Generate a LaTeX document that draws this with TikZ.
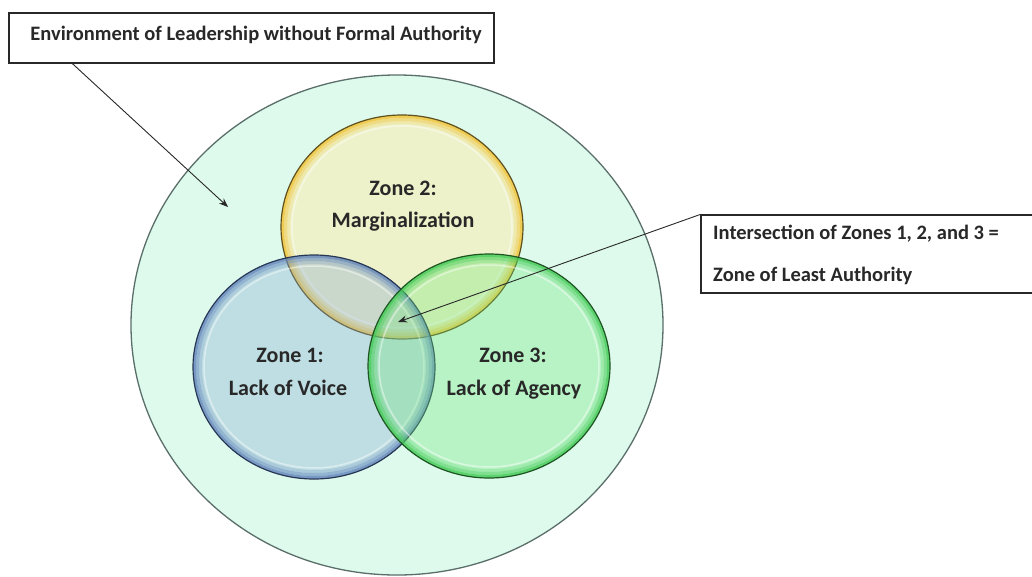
\documentclass[tikz,border=0pt]{standalone}
\usepackage{fontspec}
\setmainfont{Carlito}
\usetikzlibrary{arrows.meta}

\definecolor{envfill}{RGB}{221,250,236}
\definecolor{envedge}{RGB}{90,110,106}
\definecolor{inkgray}{RGB}{40,40,40}
\definecolor{yelfill}{RGB}{255,236,170}
\definecolor{yelrim}{RGB}{240,192,45}
\definecolor{yeledge}{RGB}{95,80,30}
\definecolor{blufill}{RGB}{130,165,210}
\definecolor{blurim}{RGB}{95,130,185}
\definecolor{bluedge}{RGB}{40,55,85}
\definecolor{grnfill}{RGB}{110,230,120}
\definecolor{grnrim}{RGB}{60,200,80}
\definecolor{grnedge}{RGB}{30,85,35}

% one translucent, glossy zone of the Venn diagram
\newcommand\drawzone[5]{%
  \fill[#2, fill opacity=#5] #1 ellipse [x radius=121, y radius=112];
  \draw[#3, line width=3, draw opacity=0.75] #1 ellipse [x radius=119.5, y radius=110.5];
  \draw[#3, line width=3, draw opacity=0.45] #1 ellipse [x radius=116.5, y radius=107.5];
  \draw[#3, line width=3, draw opacity=0.2] #1 ellipse [x radius=113.5, y radius=104.5];
  \draw[white, line width=1.5, draw opacity=0.45] #1 ellipse [x radius=110, y radius=101];
  \draw[#4, line width=1.2] #1 ellipse [x radius=121, y radius=112];
}

\tikzset{
  callout/.style={draw=inkgray, line width=1.2, fill=white, inner sep=0pt},
  lbl/.style={font=\fontsize{20.5}{24}\selectfont\bfseries, text=inkgray, inner sep=0pt, anchor=base},
  zonelbl/.style={lbl, font=\fontsize{22}{26}\selectfont\bfseries},
  pointer/.style={draw=inkgray, line width=0.9, -{Stealth[length=9pt,width=7pt]}},
}

\begin{document}
\begin{tikzpicture}[x=1pt,y=-1pt]
\useasboundingbox (0,0) rectangle (1032,576);
\fill[white] (0,0) rectangle (1032,576);

% the surrounding environment
\draw[envedge, line width=1.3, fill=envfill] (397,325) ellipse [x radius=266, y radius=250];

% the three zones
\drawzone{(402,227)}{yelfill}{yelrim}{yeledge}{0.5}
\drawzone{(314,367)}{blufill}{blurim}{bluedge}{0.33}
\drawzone{(489,366)}{grnfill}{grnrim}{grnedge}{0.33}

% zone labels
\node[zonelbl] (z2a) at (403,195) {Zone 2:};
\node[zonelbl] (z2b) at (403,227) {Marginalization};
\node[zonelbl] (z1a) at (290,362) {Zone 1:};
\node[zonelbl] (z1b) at (288,395) {Lack of Voice};
\node[zonelbl] (z3a) at (513,362) {Zone 3:};
\node[zonelbl] (z3b) at (514,395) {Lack of Agency};

% callout boxes
\node[callout, minimum width=485, minimum height=50] (envbox) at (251.5,38) {};
\node[lbl] (envtxt) at (256,40) {Environment of Leadership without Formal Authority};

\node[callout, minimum width=350, minimum height=78] (corebox) at (876,254) {};
\node[lbl, anchor=base west] (coretxt1) at (713,239) {Intersection of Zones 1, 2, and 3 =};
\node[lbl, anchor=base west] (coretxt2) at (713,281) {Zone of Least Authority};

% pointer targets
\coordinate (envpt) at (228,207);
\coordinate (corept) at (398,322);

\draw[pointer] ([xshift=64pt]envbox.south west) -- (envpt);
\draw[pointer] (corebox.north west) -- (corept);
\end{tikzpicture}
\end{document}
